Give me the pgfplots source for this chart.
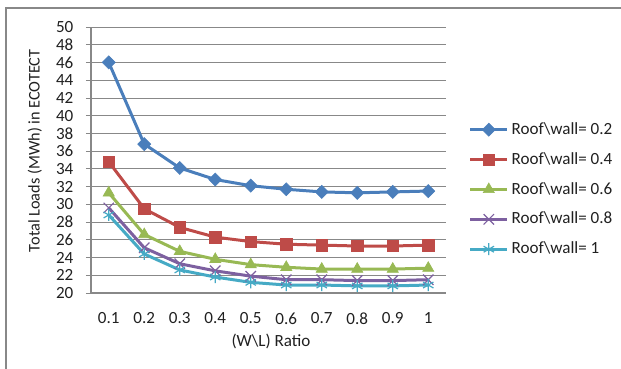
\documentclass[border=0pt]{standalone}
\usepackage{pgfplots}
\pgfplotsset{compat=1.18}
\usepackage{fontspec}
\setmainfont{Carlito}
\definecolor{c1}{HTML}{4A7EBB}
\definecolor{c2}{HTML}{BE4B48}
\definecolor{c3}{HTML}{98B954}
\definecolor{c4}{HTML}{7D60A0}
\definecolor{c5}{HTML}{46AAC5}
\definecolor{gridc}{HTML}{888888}
\definecolor{txt}{HTML}{202020}
\newcommand{\chartfont}{\fontsize{12.8pt}{15pt}\selectfont}
\begin{document}
\chartfont
\begin{tikzpicture}
\useasboundingbox (0,0) rectangle (465.75pt,276pt);
\draw[gridc, line width=0.9pt] (4.5pt,-1pt) -- (4.5pt,270pt) -- (467pt,270pt);
\begin{axis}[
  at={(68.25pt,56.25pt)}, anchor=south west,
  scale only axis, width=266.25pt, height=199.5pt,
  xmin=-0.5, xmax=9.5, ymin=20, ymax=50,
  xtick={0,...,9},
  xticklabels={0.1,0.2,0.3,0.4,0.5,0.6,0.7,0.8,0.9,1},
  ytick={20,22,...,50},
  /pgf/number format/assume math mode=true,
  ymajorgrids, grid style={gridc, line width=0.6pt},
  axis x line*=bottom, axis y line*=left,
  axis line style={gridc, line width=0.8pt, -},
  xtick style={draw=none},
  ytick style={gridc, line width=0.6pt},
  tick align=outside, major tick length=3.75pt,
  yticklabel shift=5pt, xticklabel shift=6.5pt,
  tick label style={font=\chartfont, text=txt},
  xlabel={(W\textbackslash L) Ratio},
  ylabel={Total Loads (MWh) in ECOTECT},
  xlabel style={at={(axis description cs:0.507,-0.182)}, anchor=center, font=\chartfont, text=txt},
  ylabel style={at={(axis description cs:-0.158,0.535)}, anchor=center, font=\fontsize{12.2pt}{14pt}\selectfont, text=txt},
  legend style={draw=none, fill=none, at={(1.063,0.652)}, anchor=north west,
    font=\chartfont, text=txt, row sep=7.6pt, inner sep=0pt},
  legend cell align=left,
  legend image code/.code={\draw[#1] (0pt,0pt) -- (28pt,0pt); \draw[#1, only marks] plot coordinates {(14pt,0pt)};},
  every axis plot/.append style={line width=2.25pt},
  clip=false,
]
\addplot[c1, mark=square*, mark options={solid, rotate=45, fill=c1, line width=0.5pt}, mark size=3.45pt]
 coordinates {(0,46.0)(1,36.8)(2,34.1)(3,32.8)(4,32.1)(5,31.7)(6,31.4)(7,31.3)(8,31.4)(9,31.5)};
\addlegendentry{Roof\textbackslash wall= 0.2}
\addplot[c2, mark=square*, mark options={solid, fill=c2, line width=0.5pt}, mark size=4.3pt]
 coordinates {(0,34.8)(1,29.5)(2,27.4)(3,26.3)(4,25.8)(5,25.5)(6,25.4)(7,25.3)(8,25.3)(9,25.4)};
\addlegendentry{Roof\textbackslash wall= 0.4}
\addplot[c3, mark=triangle*, mark options={solid, fill=c3, line width=0.5pt}, mark size=4.8pt]
 coordinates {(0,31.3)(1,26.6)(2,24.7)(3,23.8)(4,23.2)(5,22.9)(6,22.7)(7,22.7)(8,22.7)(9,22.8)};
\addlegendentry{Roof\textbackslash wall= 0.6}
\addplot[c4, mark=x, mark options={solid, line width=0.9pt}, mark size=5.5pt]
 coordinates {(0,29.6)(1,25.1)(2,23.3)(3,22.5)(4,21.9)(5,21.5)(6,21.5)(7,21.4)(8,21.4)(9,21.5)};
\addlegendentry{Roof\textbackslash wall= 0.8}
\addplot[c5, mark=asterisk, mark options={solid, line width=0.9pt}, mark size=4.5pt]
 coordinates {(0,28.8)(1,24.4)(2,22.6)(3,21.8)(4,21.2)(5,20.9)(6,20.9)(7,20.8)(8,20.8)(9,20.9)};
\addlegendentry{Roof\textbackslash wall= 1}
\end{axis}
\end{tikzpicture}
\end{document}
